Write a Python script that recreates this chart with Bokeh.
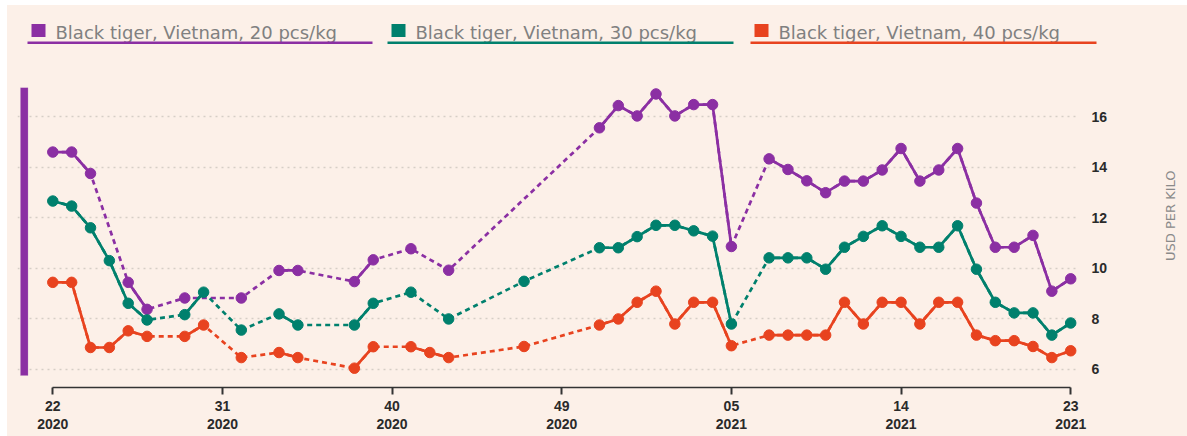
import math
from bokeh.plotting import figure
from bokeh.models import Range1d, FixedTicker, BoxAnnotation, Spacer
from bokeh.layouts import column, row
from bokeh.core.properties import value
from bokeh.embed import file_html
from bokeh.resources import INLINE

# ---------------- data ----------------
weeks = [f"{w:02d}/2020" for w in range(22, 54)] + [f"{w:02d}/2021" for w in range(1, 24)]

series_names = [
    "Black tiger, Vietnam, 20 pcs/kg",
    "Black tiger, Vietnam, 30 pcs/kg",
    "Black tiger, Vietnam, 40 pcs/kg",
]

N = None
pcs20 = [14.6, 14.6, 13.75, N, 9.44, 8.37, N, 8.82, N, N,
         8.82, N, 9.91, 9.91, N, N, 9.47, 10.33, N, 10.77,
         N, 9.92, N, N, N, N, N, N, N, 15.56,
         16.44, 16.03, 16.9, 16.03, 16.48, 16.48, 10.86, N, 14.33, 13.91,
         13.46, 12.99, 13.45, 13.45, 13.89, 14.74, 13.45, 13.89, 14.74, 12.58,
         10.83, 10.83, 11.3, 9.09, 9.58]
pcs30 = [12.66, 12.46, 11.6, 10.3, 8.61, 7.95, N, 8.16, 9.05, N,
         7.55, N, 8.19, 7.75, N, N, 7.75, 8.61, N, 9.05,
         N, 7.99, N, N, N, 9.48, N, N, N, 10.81,
         10.81, 11.25, 11.7, 11.7, 11.48, 11.27, 7.79, N, 10.41, 10.41,
         10.41, 9.96, 10.83, 11.26, 11.68, 11.26, 10.83, 10.83, 11.68, 9.96,
         8.65, 8.23, 8.23, 7.35, 7.83]
pcs40 = [9.44, 9.44, 6.86, 6.86, 7.52, 7.3, N, 7.3, 7.75, N,
         6.46, N, 6.66, 6.46, N, N, 6.04, 6.89, N, 6.89,
         6.66, 6.46, N, N, N, 6.9, N, N, N, 7.75,
         7.99, 8.65, 9.09, 7.79, 8.65, 8.65, 6.93, N, 7.35, 7.35,
         7.35, 7.35, 8.65, 7.79, 8.65, 8.65, 7.79, 8.65, 8.65, 7.35,
         7.13, 7.13, 6.9, 6.46, 6.73]

tick_positions = [0, 9, 18, 27, 36, 45, 54]
y_ticks = [6, 8, 10, 12, 14, 16]
y_title = "USD PER KILO"

# ---------------- style ----------------
BG = "#fcf0e8"
colors = ["#8b2fa3", "#00806d", "#e8431f"]
LEFT_PAD, TOP_PAD = 7, 5
TOTAL_W, TOTAL_H = 1187, 436
LEG_BOTTOM = 78          # page y where the legend strip ends
MAIN_RIGHT = 1130        # page x where the main figure ends
bg_style = {"background-color": BG}

common = dict(output_backend="svg", toolbar_location=None, outline_line_color=None,
              background_fill_color=BG, border_fill_color=BG, styles=bg_style)

# ---------------- legend strip (x = page px, y = -page px) ----------------
leg = figure(width=TOTAL_W - LEFT_PAD, height=LEG_BOTTOM - TOP_PAD,
             x_range=Range1d(LEFT_PAD, TOTAL_W), y_range=Range1d(-LEG_BOTTOM, -TOP_PAD),
             x_axis_type=None, y_axis_type=None, min_border=0, **common)
leg.grid.visible = False
item_start = [27, 387, 750]
item_end = [372, 733, 1096]
for name, c, s, e in zip(series_names, colors, item_start, item_end):
    leg.rect(x=[s + 11], y=[-30], width=14, height=13, fill_color=c, line_color=None)
    leg.text(x=[s + 28], y=[-31.5], text=[name], text_baseline="middle", text_align="left",
             text_font=value("DejaVu Sans"), text_font_size="18px", text_color="#808080")
    leg.segment(x0=[s], y0=[-42.3], x1=[e], y1=[-42.3], line_color=c, line_width=2.5)

# ---------------- main chart ----------------
PX = 18.85
X0_IMG = 52.3
PY = 25.25
FRAME_L, FRAME_R, FRAME_T, FRAME_B = 17, 1079, 87, 387
xs = (FRAME_L - X0_IMG) / PX
xe = (FRAME_R - X0_IMG) / PX
ys = 6 - (FRAME_B - 368.7) / PY
ye = ys + (FRAME_B - FRAME_T) / PY

p = figure(width=MAIN_RIGHT - LEFT_PAD, height=TOTAL_H - LEG_BOTTOM,
           x_range=Range1d(xs, xe), y_range=Range1d(ys, ye), y_axis_location="right",
           min_border_left=FRAME_L - LEFT_PAD, min_border_right=MAIN_RIGHT - FRAME_R,
           min_border_top=FRAME_T - LEG_BOTTOM, min_border_bottom=TOTAL_H - FRAME_B,
           **common)

p.xgrid.visible = False
p.ygrid.ticker = FixedTicker(ticks=y_ticks)
p.ygrid.grid_line_color = "#d6cec6"
p.ygrid.grid_line_dash = "2 4"
p.ygrid.grid_line_width = 1.5

xa = p.xaxis[0]
xa.ticker = FixedTicker(ticks=tick_positions)
xa.major_label_overrides = {i: weeks[i].replace("/", "\n") for i in tick_positions}
xa.bounds = (tick_positions[0], tick_positions[-1])
xa.axis_line_color = "#333333"
xa.axis_line_width = 1.5
xa.major_tick_line_color = "#333333"
xa.major_tick_line_width = 2
xa.major_tick_out = 7
xa.major_tick_in = 0
xa.minor_tick_line_color = None
xa.major_label_standoff = 3
xa.major_label_text_font = "Liberation Sans"
xa.major_label_text_font_size = "14px"
xa.major_label_text_font_style = "bold"
xa.major_label_text_color = "#2a2a2a"
xa.major_label_text_line_height = 1.15

ya = p.yaxis[0]
ya.ticker = FixedTicker(ticks=y_ticks)
ya.axis_line_color = None
ya.major_tick_line_color = None
ya.minor_tick_line_color = None
ya.major_label_standoff = 6
ya.major_label_text_font = "Liberation Sans"
ya.major_label_text_font_size = "14px"
ya.major_label_text_font_style = "bold"
ya.major_label_text_color = "#2a2a2a"

p.add_layout(BoxAnnotation(left=(20 - X0_IMG) / PX, right=(27.5 - X0_IMG) / PX,
                           bottom=6 - (375 - 368.7) / PY, top=ye,
                           fill_color="#8b2fa3", fill_alpha=1.0,
                           line_color="#b784c4", line_width=1))

for vals, c in zip([pcs20, pcs30, pcs40], colors):
    idx = list(range(len(vals)))
    px = [i for i, v in zip(idx, vals) if v is not None]
    py = [v for v in vals if v is not None]
    solid = [float("nan") if v is None else v for v in vals]
    p.line(px, py, line_color=c, line_width=2.7, line_dash="5 4")
    p.line(idx, solid, line_color=c, line_width=2.7)
    p.scatter(px, py, size=10.5, fill_color=c, line_color=c)

# ---------------- right strip with axis title (x = page px, y = -page px) ----------------
rfig = figure(width=TOTAL_W - MAIN_RIGHT, height=TOTAL_H - LEG_BOTTOM,
              x_range=Range1d(MAIN_RIGHT, TOTAL_W), y_range=Range1d(-TOTAL_H, -LEG_BOTTOM),
              x_axis_type=None, y_axis_type=None, min_border=0, **common)
rfig.grid.visible = False
rfig.text(x=[1170], y=[-231], text=[y_title], angle=math.pi / 2,
          text_align="center", text_baseline="middle",
          text_font=value("DejaVu Sans"), text_font_size="13px", text_color="#8a8a8a")

layout = row(Spacer(width=LEFT_PAD, height=TOTAL_H),
             column(Spacer(width=TOTAL_W - LEFT_PAD, height=TOP_PAD, styles={"background-color": "white"}),
                    leg, row(p, rfig, styles=bg_style), styles=bg_style))
open("out.html", "w").write(file_html(layout, INLINE))
